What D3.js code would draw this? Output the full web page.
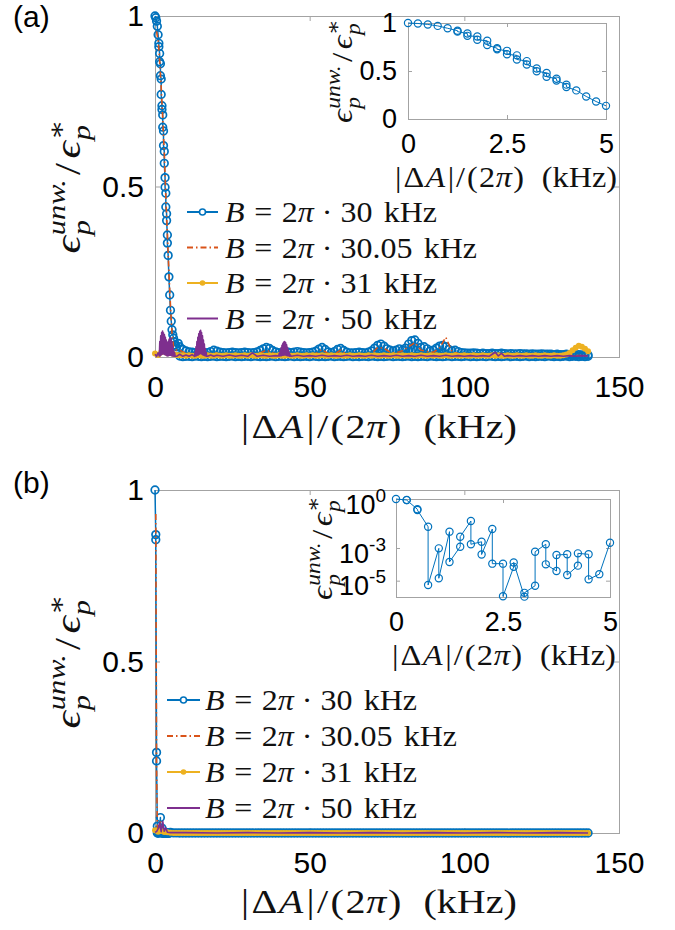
<!DOCTYPE html>
<html>
<head>
<meta charset="utf-8">
<script src="https://cdn.jsdelivr.net/npm/d3@7/dist/d3.min.js"></script>
<style>
  html, body { margin: 0; padding: 0; background: #ffffff; }
  svg { display: block; }
</style>
</head>
<body>
<svg id="fig" width="675" height="930" viewBox="0 0 675 930"></svg>
<script>
// ---------------- data ----------------
// field values B/(2π) in kHz, one curve each
const fieldLabels = ["30", "30.05", "31", "50"];

// shared sampling grids (kHz)
const tailFreq = [8,9,10,11,12,13,14,15,16,17,18,19,20,21,22,23,24,25,26,27,28,29,30,31,32,33,34,35,36,37,38,39,40,41,42,43,44,45,46,47,48,49,50,51,52,53,54,55,56,57,58,59,60,61,62,63,64,65,66,67,68,69,70,71,72,73,74,75,76,77,78,79,80,81,82,83,84,85,86,87,88,89,90,91,92,93,94,95,96,97,98,99,100,101,102,103,104,105,106,107,108,109,110,111,112,113,114,115,116,117,118,119,120,121,122,123,124,125,126,127,128,129,130,131,132,133,134,135,136,137,138,139,140];
const headFreq = [0,1,2,3,4,5,6,7];
const fullFreq = headFreq.concat(tailFreq);

// ---- panel (a) ----
// B = 2π·30 kHz : low-|ΔA| part (pairs from ±ΔA)
const aBlueFreq = [0,0.25,0.5,0.75,1,1.25,1.25,1.5,1.5,1.75,1.75,2,2,2.25,2.25,2.5,2.5,2.75,2.75,3,3,3.25,3.25,3.5,3.5,3.75,3.75,4,4,4.25,4.5,4.75,5,5.25,5.5,5.75,6,6.25,6.5,7,7.5];
const aBlueVal  = [1,0.995,0.985,0.97,0.945,0.92,0.91,0.89,0.866,0.86,0.825,0.815,0.77,0.737,0.726,0.71,0.674,0.663,0.62,0.603,0.568,0.526,0.498,0.48,0.44,0.42,0.40,0.358,0.334,0.298,0.235,0.182,0.137,0.105,0.08,0.065,0.055,0.045,0.035,0.03,0.04];
// tail (one upper and one lower value per frequency)
const aBlueTailHi = [
  0.03,0.022,0.018,0.015,0.014,0.013,0.014,0.013,0.012,0.013,
  0.016,0.02,0.017,0.014,0.013,0.012,0.013,0.014,0.013,0.012,
  0.013,0.014,0.013,0.012,0.013,0.015,0.019,0.024,0.028,0.025,
  0.019,0.015,0.013,0.012,0.013,0.014,0.013,0.014,0.016,0.014,
  0.013,0.012,0.013,0.014,0.017,0.023,0.028,0.022,0.015,0.013,
  0.016,0.022,0.025,0.019,0.014,0.012,0.012,0.013,0.014,0.013,
  0.012,0.014,0.018,0.026,0.034,0.038,0.032,0.024,0.02,0.018,
  0.02,0.024,0.02,0.026,0.038,0.048,0.05,0.04,0.028,0.03,
  0.024,0.018,0.02,0.026,0.032,0.034,0.03,0.022,0.018,0.02,
  0.016,0.013,0.012,0.011,0.011,0.012,0.011,0.01,0.011,0.01,
  0.01,0.011,0.01,0.01,0.011,0.01,0.009,0.01,0.009,0.009,
  0.01,0.009,0.009,0.008,0.009,0.008,0.008,0.009,0.008,0.008,
  0.008,0.007,0.008,0.007,0.007,0.008,0.007,0.007,0.006,0.007,
  0.006,0.007,0.006];
const aBlueTailLo = [
  0.003,0.001,0.002,0.002,0.001,0.003,0.002,0.001,0.002,0.001,
  0.002,0.003,0.001,0.002,0.002,0.001,0.002,0.003,0.001,0.002,
  0.001,0.002,0.002,0.001,0.003,0.002,0.001,0.002,0.001,0.002,
  0.003,0.001,0.002,0.002,0.001,0.002,0.003,0.001,0.002,0.001,
  0.002,0.002,0.001,0.003,0.002,0.001,0.002,0.001,0.002,0.003,
  0.001,0.002,0.002,0.001,0.002,0.003,0.001,0.002,0.001,0.002,
  0.002,0.001,0.003,0.002,0.001,0.002,0.001,0.002,0.003,0.001,
  0.002,0.002,0.001,0.002,0.003,0.001,0.002,0.001,0.002,0.002,
  0.001,0.003,0.002,0.001,0.002,0.001,0.002,0.003,0.001,0.002,
  0.002,0.001,0.002,0.003,0.001,0.002,0.001,0.002,0.002,0.001,
  0.003,0.002,0.001,0.002,0.001,0.002,0.003,0.001,0.002,0.002,
  0.001,0.002,0.003,0.001,0.002,0.001,0.002,0.002,0.001,0.003,
  0.002,0.001,0.002,0.001,0.002,0.003,0.001,0.002,0.002,0.001,
  0.002,0.001,0.002];
// B = 2π·30.05 kHz
const aOrangeFreq = [0.5,1,1.5,2,2.5,3,3.5,4,4.5,5,5.5,6,7,
  8,10,12,14,16,18,20,22,24,26,28,30,32,34,36,38,40,42,44,46,48,50,52,54,56,58,60,62,64,66,68,70,72,74,76,78,80,82,84,86,88,90,92,94,96,98,100,102,104,106,108,110,112,114,116,118,120,122,124,126,128,130,132,134,136,138,140];
const aOrangeVal = [0.955,0.93,0.87,0.79,0.70,0.60,0.47,0.36,0.25,0.15,0.07,0.03,0.02,
  0.02,0.01,0.008,0.009,0.007,0.01,0.012,0.008,0.007,0.008,
  0.007,0.008,0.007,0.012,0.02,0.012,0.007,0.008,0.007,0.01,
  0.007,0.006,0.01,0.022,0.01,0.008,0.02,0.008,0.006,0.007,
  0.006,0.01,0.028,0.026,0.014,0.012,0.018,0.03,0.042,0.02,
  0.016,0.014,0.026,0.058,0.016,0.01,0.007,0.006,0.005,0.006,
  0.005,0.005,0.006,0.005,0.005,0.004,0.005,0.004,0.004,0.005,
  0.004,0.004,0.004,0.004,0.004,0.004,0.004];
// B = 2π·31 kHz
const aYellowVal = [
  0.01,0.006,0.014,0.02,0.011,0.016,0.009,0.006,0.005,0.005,
  0.004,0.005,0.004,0.004,0.005,0.004,0.004,0.005,0.004,0.004,
  0.005,0.004,0.004,0.005,0.004,0.004,0.005,0.004,0.004,0.005,
  0.004,0.005,0.004,0.004,0.005,0.004,0.004,0.005,0.004,0.004,
  0.005,0.004,0.004,0.005,0.004,0.004,0.005,0.004,0.004,0.005,
  0.004,0.005,0.004,0.004,0.005,0.004,0.004,0.005,0.004,0.004,
  0.005,0.004,0.004,0.005,0.004,0.004,0.005,0.004,0.004,0.005,
  0.004,0.005,0.004,0.004,0.005,0.004,0.004,0.005,0.004,0.004,
  0.005,0.004,0.004,0.005,0.004,0.004,0.005,0.004,0.004,0.005,
  0.004,0.005,0.004,0.004,0.005,0.004,0.004,0.005,0.004,0.004,
  0.005,0.004,0.004,0.005,0.004,0.004,0.005,0.004,0.004,0.005,
  0.004,0.005,0.004,0.004,0.005,0.004,0.004,0.005,0.004,0.004,
  0.005,0.004,0.004,0.005,0.004,0.004,0.005,0.004,0.004,0.005,
  0.004,0.004,0.005,0.007,0.012,0.02,0.027,0.033,0.03,0.024,
  0.017];
// B = 2π·50 kHz (rapidly oscillating bursts near 1.5-6.5, 13-16.5 and 40-44 kHz)
const aPurpleFreq = [
  0,0.5,1,
  1.4,1.55,1.7,1.85,2,2.15,2.3,2.45,2.6,2.75,2.9,3.05,3.2,3.35,3.5,3.65,3.8,3.95,4.1,4.25,4.4,4.55,4.7,4.85,5,5.15,5.3,5.45,5.6,5.75,5.9,6.05,6.2,6.35,6.5,
  7,8,9,10,11,12,
  12.8,12.95,13.1,13.25,13.4,13.55,13.7,13.85,14,14.15,14.3,14.45,14.6,14.75,14.9,15.05,15.2,15.35,15.5,15.65,15.8,15.95,16.1,16.25,16.4,16.55,16.7,
  17,18,19,20,22,24,26,28,30,31.5,33,35,37,39,
  40,40.15,40.3,40.45,40.6,40.75,40.9,41.05,41.2,41.35,41.5,41.65,41.8,41.95,42.1,42.25,42.4,42.55,42.7,42.85,43,43.15,43.3,43.45,43.6,43.75,44,
  46,48,50,52,54,56,58,60,62,64,66,68,70,72,74,76,78,80,82,84,86,88,90,92,94,96,98,100,102,104,106,108,
  109,110,111,112,113,114,
  116,118,120,122,124,126,128,130,132,134,136,138,140];
const aPurpleVal = [
  0.008,0.002,0.012,
  0.003,0.045,0.004,0.062,0.006,0.072,0.008,0.076,0.01,0.07,0.008,0.065,0.007,0.058,0.006,0.05,0.004,0.04,0.003,0.045,0.004,0.052,0.005,0.056,0.005,0.054,0.004,0.045,0.003,0.032,0.003,0.02,0.002,0.012,0.002,
  0.002,0.008,0.002,0.006,0.002,0.007,
  0.002,0.015,0.003,0.03,0.004,0.045,0.005,0.058,0.006,0.068,0.008,0.075,0.01,0.078,0.01,0.072,0.008,0.062,0.006,0.05,0.005,0.038,0.004,0.025,0.003,0.014,0.002,
  0.002,0.006,0.002,0.005,0.002,0.006,0.002,0.005,0.002,0.012,0.002,0.005,0.002,0.004,
  0.003,0.01,0.003,0.018,0.004,0.027,0.004,0.034,0.005,0.04,0.005,0.044,0.006,0.045,0.006,0.042,0.005,0.036,0.004,0.028,0.004,0.02,0.003,0.012,0.002,0.006,0.002,
  0.005,0.002,0.004,0.002,0.005,0.002,0.004,0.002,0.005,0.002,0.004,0.002,0.005,0.002,0.004,0.002,0.005,0.002,0.004,0.002,0.005,0.002,0.004,0.002,0.005,0.002,0.004,0.002,0.004,0.002,0.004,0.002,
  0.008,0.014,0.003,0.011,0.002,0.004,
  0.002,0.004,0.002,0.004,0.002,0.004,0.002,0.004,0.002,0.004,0.002,0.004,0.003];

// ---- panel (b) ----
const bBlueFreq = [0,0.25,0.25,0.5,0.5,0.75,0.75,1,1,1.25,1.25,1.5,1.5,1.75,1.75,2,2,2.25,2.25,2.5,2.5,2.75,2.75,3,3,3.25,3.25,3.5,3.5,3.75,3.75,4,4,4.25,4.25,4.5,4.5,4.75,5,6,7];
const bBlueVal  = [1,0.87,0.855,0.235,0.21,0.02,5.4e-6,9.5e-4,1.4e-5,0.01,1.4e-4,1.2e-3,4.9e-3,0.045,1.7e-3,2.4e-3,4e-4,0.0145,1.1e-4,1.1e-4,1.1e-6,7e-5,1.3e-4,1.05e-6,1.8e-6,4.9e-6,5.9e-4,1.7e-3,1e-4,3.9e-5,3.7e-4,4.1e-4,2.2e-5,8.3e-5,4.7e-4,4.1e-4,1.2e-5,2.5e-5,2.1e-3,1e-4,1e-4];
const bBlueTail = [
  0,0,0,0,0,0,0,0,0,0, 0,0,0,0,0,0,0,0,0,0, 0,0,0,0,0,0,0,0,0,0,
  0,0,0,0,0,0,0,0,0,0, 0,0,0,0,0,0,0,0,0,0, 0,0,0,0,0,0,0,0,0,0,
  0,0,0,0,0,0,0,0,0,0, 0,0,0,0,0,0,0,0,0,0, 0,0,0,0,0,0,0,0,0,0,
  0,0,0,0,0,0,0,0,0,0, 0,0,0,0,0,0,0,0,0,0, 0,0,0,0,0,0,0,0,0,0,
  0,0,0,0,0,0,0,0,0,0, 0,0,0];
const bOrangeFreq = [0.25,0.5,0.75,1,1.25,1.5,1.75,2,2.25,2.5,3,4,5,10,20,30,40,50,60,70,80,90,100,110,120,130,140];
const bOrangeVal  = [0.93,0.2,0.015,0.004,0.012,0.006,0.035,0.005,0.012,0.002,0.001,0,0,0,0,0,0,0,0,0,0,0,0,0,0,0,0];
const bYellowVal = [
  0.008,0.004,0.006,0.003,0.002,0.001,0,0,0,0,
  0,0,0,0,0,0,0,0,0,0, 0,0,0,0,0,0,0,0,0,0, 0,0,0,0,0,0,0,0,0,0,
  0,0,0,0,0,0,0,0,0,0, 0,0,0,0,0,0,0,0,0,0, 0,0,0,0,0,0,0,0,0,0,
  0,0,0,0,0,0,0,0,0,0, 0,0,0,0,0,0,0,0,0,0, 0,0,0,0,0,0,0,0,0,0,
  0,0,0,0,0,0,0,0,0,0, 0,0,0,0,0,0,0,0,0,0, 0,0,0,0,0,0,0,0,0,0,
  0,0,0,0,0,0,0,0,0,0, 0];
const bPurpleFreq = [0,0.5,1,1.5,2,2.5,3,3.5,4,5,10,20,30,40,50,60,70,80,90,100,110,120,130,140];
const bPurpleVal  = [0.002,0.004,0.012,0.03,0.004,0.034,0.005,0.015,0.002,0.001,0.001,0,0.001,0,0.001,0,0.001,0,0.001,0,0.001,0,0.001,0];

// tick values
const mainXTicks = [0, 50, 100, 150];
const mainYTicks = [0, 0.5, 1];
const insetXTicks = [0, 2.5, 5];
const insetLinYTicks = [0, 0.5, 1];
const insetLogYTicks = [1e-5, 1e-3, 1];

// ---------------- style ----------------
const C = { blue: "#0072BD", orange: "#D95319", yellow: "#EDB120", purple: "#7E2F8E" };
const AXIS = "#a3a3a3";
const SANS = "'Liberation Sans', Arial, Helvetica, sans-serif";
const SERIF = "'Liberation Serif', 'DejaVu Serif', serif";

const svg = d3.select("#fig");

// ---------------- helpers ----------------
// lays out a row of math pieces; sub/superscripts can be stacked
function mathRow(parent, pieces, size) {
  const g = parent.append("g");
  let x = 0, scriptStart = 0, scriptEnd = 0;
  pieces.forEach(p => {
    const sc = p.s || 1;
    const start = p.stack ? scriptStart : x;
    const t = g.append("text")
      .attr("x", start).attr("y", (p.dy || 0) * size)
      .attr("font-family", SERIF).attr("font-size", size * sc)
      .attr("font-style", p.i ? "italic" : "normal")
      .attr("fill", "#111").text(p.t);
    const end = start + t.node().getComputedTextLength();
    if (p.stack) {
      x = Math.max(scriptEnd, end) + (p.sp || 0) * size;
    } else {
      scriptStart = start; scriptEnd = end;
      x = end + (p.sp || 0) * size;
    }
  });
  return { g, width: x };
}

// places a math row, stretched horizontally to a given width (or by a given factor)
function placeMath(parent, pieces, size, o) {
  const wrap = parent.append("g")
    .attr("transform", `translate(${o.x},${o.y})` + (o.rotate ? " rotate(-90)" : ""));
  const m = mathRow(wrap, pieces, size);
  const k = o.width ? o.width / m.width : (o.k || 1);
  const left = o.anchor === "start" ? 0 : -m.width * k / 2;
  m.g.attr("transform", `translate(${left},0) scale(${k},1)`);
  return k;
}

const xPieces = [
  { t: "|", sp: 0.06 }, { t: "Δ", sp: 0.04 }, { t: "A", i: 1, sp: 0.08 }, { t: "|", sp: 0.06 },
  { t: "/", sp: 0.06 }, { t: "(", sp: 0.04 }, { t: "2", sp: 0.02 }, { t: "π", i: 1, sp: 0.04 },
  { t: ")", sp: 0.55 }, { t: "(kHz)" }
];
const yPieces = [
  { t: "ϵ", i: 1, sp: 0.02 },
  { t: "unw.", i: 1, s: 0.7, dy: -0.42 },
  { t: "p", i: 1, s: 0.7, dy: 0.28, stack: 1, sp: 0.1 },
  { t: "/", sp: 0.1 },
  { t: "ϵ", i: 1, sp: 0.02 },
  { t: "∗", s: 0.7, dy: -0.42 },
  { t: "p", i: 1, s: 0.7, dy: 0.28, stack: 1 }
];
const legendPieces = v => [
  { t: "B", i: 1, sp: 0.3 }, { t: "=", sp: 0.3 }, { t: "2" }, { t: "π", i: 1, sp: 0.25 },
  { t: "·", sp: 0.25 }, { t: v, sp: 0.35 }, { t: "kHz" }
];

function frame(g, x, y, o) {
  const [xl, xr] = x.range();
  const [yb, yt] = y.range();
  g.append("rect")
    .attr("x", xl + 0.5).attr("y", yt + 0.5)
    .attr("width", xr - xl).attr("height", yb - yt)
    .attr("fill", "#fff").attr("stroke", AXIS).attr("stroke-width", 1);
  const tidy = sel => {
    sel.select(".domain").remove();
    sel.selectAll(".tick line").attr("stroke", AXIS);
    sel.attr("font-family", SANS).attr("font-size", o.font);
    sel.selectAll(".tick text").attr("fill", "#000");
  };
  tidy(g.append("g").attr("transform", `translate(0,${yb})`)
    .call(d3.axisBottom(x).tickValues(o.xTicks).tickFormat(d => String(d))
      .tickSizeInner(-o.tick).tickSizeOuter(0).tickPadding(o.xPad)));
  tidy(g.append("g").attr("transform", `translate(0,${yt})`)
    .call(d3.axisTop(x).tickValues(o.xTicks).tickFormat("")
      .tickSizeInner(-o.tick).tickSizeOuter(0)));
  const left = g.append("g").attr("transform", `translate(${xl},0)`)
    .call(d3.axisLeft(y).tickValues(o.yTicks).tickFormat(o.yFormat || (d => String(d)))
      .tickSizeInner(-o.tick).tickSizeOuter(0).tickPadding(o.yPad));
  tidy(left);
  tidy(g.append("g").attr("transform", `translate(${xr},0)`)
    .call(d3.axisRight(y).tickValues(o.yTicks).tickFormat("")
      .tickSizeInner(-o.tick).tickSizeOuter(0)));
  return left;
}

function plot(g, pts, x, y, s) {
  const line = d3.line().x(d => x(d[0])).y(d => y(d[1]));
  g.append("path").datum(pts).attr("d", line)
    .attr("fill", "none").attr("stroke", s.color).attr("stroke-width", s.width)
    .attr("stroke-linejoin", "round")
    .attr("stroke-dasharray", s.dash || null);
  if (s.marker === "o") {
    g.append("g").selectAll("circle").data(pts).join("circle")
      .attr("cx", d => x(d[0])).attr("cy", d => y(d[1])).attr("r", s.r)
      .attr("fill", "none").attr("stroke", s.color).attr("stroke-width", s.mw);
  } else if (s.marker === ".") {
    g.append("g").selectAll("circle").data(pts).join("circle")
      .attr("cx", d => x(d[0])).attr("cy", d => y(d[1])).attr("r", s.r)
      .attr("fill", s.color);
  }
}

const styles = [
  { color: C.blue, width: 1.5, marker: "o", r: 3.8, mw: 1.7 },
  { color: C.orange, width: 1.6, dash: "6,3,1.5,3" },
  { color: C.yellow, width: 1.6, marker: ".", r: 3 },
  { color: C.purple, width: 1.6 }
];

function legend(g, lx0, lx1, tx, rows) {
  let k = 1;
  rows.forEach((ry, i) => {
    const s = styles[i];
    g.append("line").attr("x1", lx0).attr("x2", lx1).attr("y1", ry).attr("y2", ry)
      .attr("stroke", s.color).attr("stroke-width", 2)
      .attr("stroke-dasharray", s.dash || null);
    const mx = (lx0 + lx1) / 2;
    if (s.marker === "o") g.append("circle").attr("cx", mx).attr("cy", ry).attr("r", 3)
      .attr("fill", "#fff").attr("stroke", s.color).attr("stroke-width", 1.6);
    if (s.marker === ".") g.append("circle").attr("cx", mx).attr("cy", ry).attr("r", 2.8)
      .attr("fill", s.color);
    const r = placeMath(g, legendPieces(fieldLabels[i]), 29,
      i === 0 ? { x: tx, y: ry + 10, width: 212, anchor: "start" }
              : { x: tx, y: ry + 10, k: k, anchor: "start" });
    if (i === 0) k = r;
  });
}

const xMain = d3.scaleLinear().domain([0, 150]).range([155, 619]);

// ---------------- panel (a) ----------------
{
  const g = svg.append("g");
  const y = d3.scaleLinear().domain([0, 1]).range([357, 16]);
  frame(g, xMain, y, { xTicks: mainXTicks, yTicks: mainYTicks, tick: 5, font: 30, xPad: 19, yPad: 11 });

  const blue = d3.zip(aBlueFreq, aBlueVal)
    .concat(tailFreq.flatMap((f, i) => [[f, aBlueTailHi[i]], [f, aBlueTailLo[i]]]));
  plot(g, blue, xMain, y, styles[0]);
  plot(g, d3.zip(aOrangeFreq, aOrangeVal), xMain, y, styles[1]);
  plot(g, d3.zip(fullFreq, aYellowVal), xMain, y, styles[2]);
  plot(g, d3.zip(aPurpleFreq, aPurpleVal), xMain, y, styles[3]);

  legend(g, 187, 218, 225, [212, 247.5, 283, 318.5]);

  g.append("text").attr("x", 13).attr("y", 27).attr("font-family", SANS)
    .attr("font-size", 30).text("(a)");
  placeMath(g, yPieces, 36, { x: 80, y: 186.5, rotate: true, width: 134 });
  placeMath(g, xPieces, 34, { x: 379, y: 438, width: 276 });

  // inset: zoom on 0-5 kHz
  const ix = d3.scaleLinear().domain([0, 5]).range([408, 606]);
  const iy = d3.scaleLinear().domain([0, 1]).range([119, 23]);
  const gi = g.append("g");
  frame(gi, ix, iy, { xTicks: insetXTicks, yTicks: insetLinYTicks, tick: 4, font: 27, xPad: 15, yPad: 11 });
  const zoomPts = d3.zip(aBlueFreq, aBlueVal).filter(d => d[0] <= 5);
  plot(gi, zoomPts, ix, iy, { color: C.blue, width: 1, marker: "o", r: 3.6, mw: 1.2 });
  placeMath(gi, xPieces, 29, { x: 506, y: 187, width: 222 });
  placeMath(gi, yPieces, 29, { x: 352, y: 71, rotate: true, width: 104 });
}

// ---------------- panel (b) ----------------
{
  const g = svg.append("g");
  const y = d3.scaleLinear().domain([0, 1]).range([833, 490]);
  frame(g, xMain, y, { xTicks: mainXTicks, yTicks: mainYTicks, tick: 5, font: 30, xPad: 19, yPad: 11 });

  const blue = d3.zip(bBlueFreq, bBlueVal).concat(d3.zip(tailFreq, bBlueTail));
  plot(g, blue, xMain, y, styles[0]);
  plot(g, d3.zip(bOrangeFreq, bOrangeVal), xMain, y, styles[1]);
  plot(g, d3.zip(fullFreq, bYellowVal), xMain, y, styles[2]);
  plot(g, d3.zip(bPurpleFreq, bPurpleVal), xMain, y, styles[3]);

  legend(g, 167, 200, 205, [700, 736, 772, 808]);

  g.append("text").attr("x", 13).attr("y", 493).attr("font-family", SANS)
    .attr("font-size", 30).text("(b)");
  placeMath(g, yPieces, 36, { x: 80, y: 661.5, rotate: true, width: 134 });
  placeMath(g, xPieces, 34, { x: 379, y: 913, width: 276 });

  // inset: 0-5 kHz on a log scale
  const ix = d3.scaleLinear().domain([0, 5]).range([396, 610]);
  const iy = d3.scaleLog().domain([1e-6, 1]).range([597, 499]);
  const gi = g.append("g");
  const left = frame(gi, ix, iy, { xTicks: insetXTicks, yTicks: insetLogYTicks, tick: 4, font: 27, xPad: 15, yPad: 10, yFormat: () => "" });
  left.selectAll(".tick text").each(function (d) {
    const t = d3.select(this).attr("dy", null).attr("y", 14);
    const e = Math.round(Math.log10(d));
    t.append("tspan").text("10");
    t.append("tspan").attr("font-size", 19).attr("dy", -12).text(String(e));
  });
  const zoomPts = d3.zip(bBlueFreq, bBlueVal).filter(d => d[0] <= 5);
  plot(gi, zoomPts, ix, iy, { color: C.blue, width: 1, marker: "o", r: 3.6, mw: 1.2 });
  placeMath(gi, xPieces, 29, { x: 504, y: 665, width: 224 });
  placeMath(gi, yPieces, 29, { x: 332, y: 548, rotate: true, width: 104 });
}
</script>
</body>
</html>
